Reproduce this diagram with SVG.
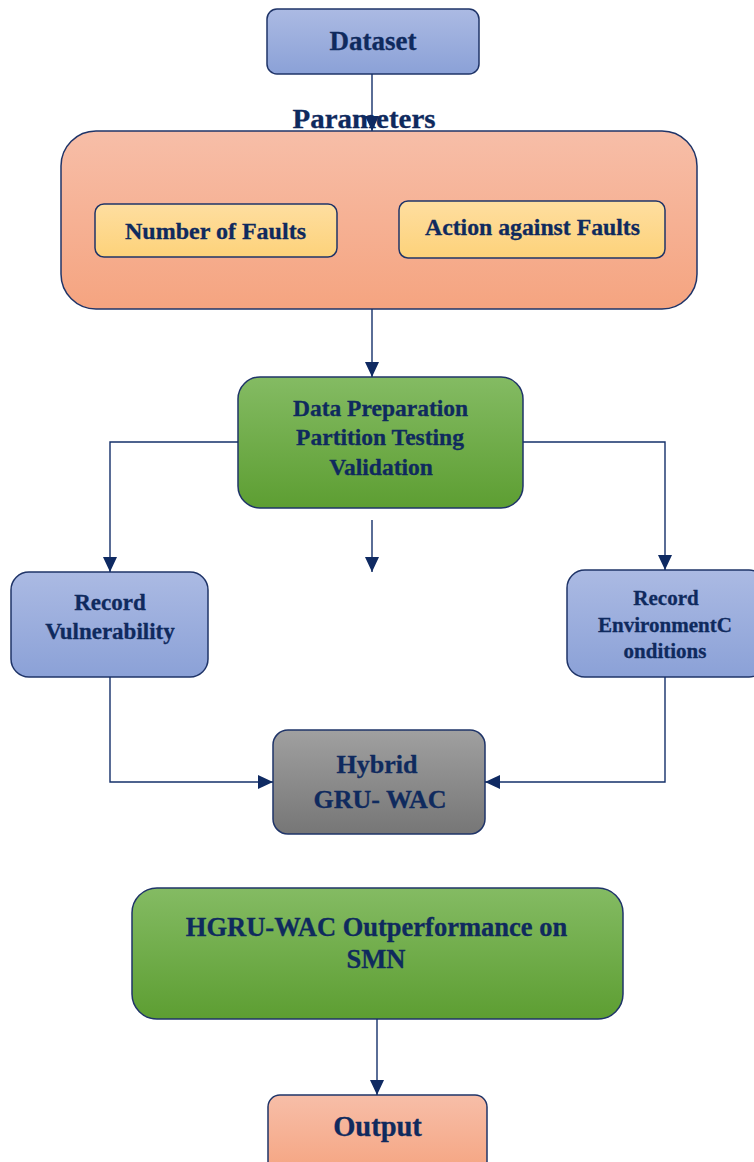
<svg xmlns="http://www.w3.org/2000/svg" width="754" height="1162" viewBox="0 0 754 1162">
<defs>
<linearGradient id="gBlue" x1="0" y1="0" x2="0" y2="1"><stop offset="0" stop-color="#abbae3"/><stop offset="1" stop-color="#8ba1d7"/></linearGradient>
<linearGradient id="gSalmon" x1="0" y1="0" x2="0" y2="1"><stop offset="0" stop-color="#f7bea8"/><stop offset="1" stop-color="#f5a480"/></linearGradient>
<linearGradient id="gYellow" x1="0" y1="0" x2="0" y2="1"><stop offset="0" stop-color="#fedea0"/><stop offset="1" stop-color="#fdd27a"/></linearGradient>
<linearGradient id="gGreen" x1="0" y1="0" x2="0" y2="1"><stop offset="0" stop-color="#84bb63"/><stop offset="1" stop-color="#5d9e32"/></linearGradient>
<linearGradient id="gGray" x1="0" y1="0" x2="0" y2="1"><stop offset="0" stop-color="#a0a0a0"/><stop offset="1" stop-color="#767676"/></linearGradient>
<marker id="arr" markerUnits="userSpaceOnUse" markerWidth="15" markerHeight="14" refX="15" refY="7" orient="auto" viewBox="0 0 15 14"><path d="M0,0 L15,7 L0,14 z" fill="#0f2a62"/></marker>
</defs>
<style>
.box{stroke:#1f3468;stroke-width:1.5}
.t{font-family:"Liberation Serif","Times New Roman",serif;font-weight:bold;fill:#0f2a5e;text-anchor:middle;stroke:#0f2a5e;stroke-width:0.3}
.c{fill:none;stroke:#14306a;stroke-width:1.4}
</style>
<g id="parameters">
<text class="t" x="364" y="128" font-size="27" textLength="143" lengthAdjust="spacingAndGlyphs">Parameters</text>
<rect class="box" x="61" y="131" width="636" height="178" rx="35" fill="url(#gSalmon)"/>
</g>
<g id="number-of-faults">
<rect class="box" x="95" y="204" width="242" height="53" rx="9" fill="url(#gYellow)"/>
<text class="t" x="215.5" y="239" font-size="23" textLength="181" lengthAdjust="spacingAndGlyphs">Number of Faults</text>
</g>
<g id="action-against-faults">
<rect class="box" x="399" y="201" width="266" height="57" rx="9" fill="url(#gYellow)"/>
<text class="t" x="532.5" y="235" font-size="23" textLength="215" lengthAdjust="spacingAndGlyphs">Action against Faults</text>
</g>
<g id="dataset">
<rect class="box" x="267" y="9" width="212" height="65" rx="10" fill="url(#gBlue)"/>
<text class="t" x="373" y="50" font-size="27">Dataset</text>
</g>
<g id="data-preparation">
<rect class="box" x="238" y="377" width="285" height="131" rx="22" fill="url(#gGreen)"/>
<text class="t" x="380.5" y="416" font-size="23.5">Data Preparation</text>
<text class="t" x="380" y="445" font-size="23.5">Partition Testing</text>
<text class="t" x="381" y="475" font-size="23.5">Validation</text>
</g>
<g id="record-vulnerability">
<rect class="box" x="11" y="572" width="197" height="105" rx="18" fill="url(#gBlue)"/>
<text class="t" x="110" y="610" font-size="23">Record</text>
<text class="t" x="110" y="639" font-size="23">Vulnerability</text>
</g>
<g id="record-environment">
<rect class="box" x="567" y="570" width="200" height="107" rx="18" fill="url(#gBlue)"/>
<text class="t" x="666" y="605" font-size="21">Record</text>
<text class="t" x="665" y="632" font-size="21">EnvironmentC</text>
<text class="t" x="665" y="658" font-size="21">onditions</text>
</g>
<g id="hybrid">
<rect class="box" x="273" y="730" width="212" height="104" rx="15" fill="url(#gGray)"/>
<text class="t" x="377" y="773" font-size="26">Hybrid</text>
<text class="t" x="380" y="808" font-size="26">GRU- WAC</text>
</g>
<g id="hgru-wac">
<rect class="box" x="132" y="888" width="491" height="131" rx="25" fill="url(#gGreen)"/>
<text class="t" x="376.5" y="936" font-size="26.5">HGRU-WAC Outperformance on</text>
<text class="t" x="376" y="968" font-size="26.5">SMN</text>
</g>
<g id="output">
<rect class="box" x="268" y="1095" width="219" height="80" rx="12" fill="url(#gSalmon)"/>
<text class="t" x="377.5" y="1136" font-size="28.5">Output</text>
</g>
<g id="connectors">
<path class="c" d="M372,74 V131" marker-end="url(#arr)"/>
<path class="c" d="M372,309 V377" marker-end="url(#arr)"/>
<path class="c" d="M238,442 H110 V572" marker-end="url(#arr)"/>
<path class="c" d="M523,442 H665 V570" marker-end="url(#arr)"/>
<path class="c" d="M372,520 V572" marker-end="url(#arr)"/>
<path class="c" d="M110,677 V782 H273" marker-end="url(#arr)"/>
<path class="c" d="M665,677 V782 H485" marker-end="url(#arr)"/>
<path class="c" d="M377,1019 V1095" marker-end="url(#arr)"/>
</g>
</svg>
